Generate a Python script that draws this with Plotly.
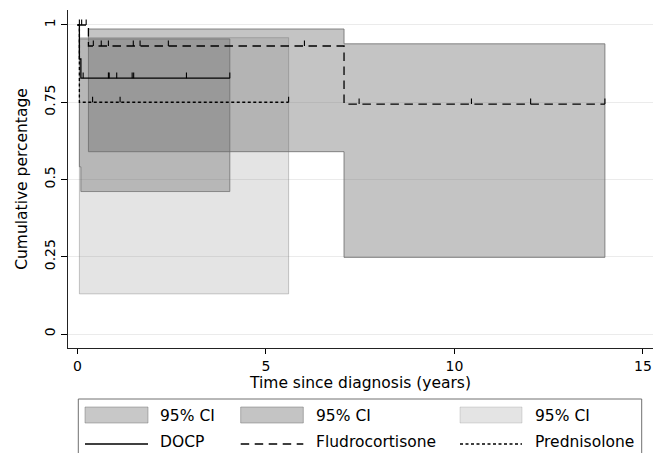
import plotly.graph_objects as go

# ---------------- data ----------------
# DOCP
docp_t = [0, 0.05, 0.09, 4.04]
docp_s = [1, 0.89, 0.828, 0.828]
docp_cens_t = [0.15, 0.82, 0.84, 1.04, 1.45, 1.49, 2.89, 4.04]
docp_ci_t = [0.05, 0.09, 4.04]
docp_ci_lo = [0.541, 0.461, 0.461]
docp_ci_hi = [0.955, 0.955, 0.955]

# Fludrocortisone
fludro_t = [0, 0.29, 7.07, 13.99]
fludro_s = [1, 0.932, 0.744, 0.744]
fludro_cens_t = [0.05, 0.11, 0.23, 0.42, 0.63, 0.82, 1.48, 1.66, 2.41, 6.02,
                 7.47, 10.45, 12.02, 13.99]
fludro_ci_t = [0.29, 7.07, 13.99]
fludro_ci_lo = [0.590, 0.248, 0.248]
fludro_ci_hi = [0.987, 0.939, 0.939]

# Prednisolone
pred_t = [0, 0.05, 5.60]
pred_s = [1, 0.750, 0.750]
pred_cens_t = [0.40, 1.13, 5.60]
pred_ci_t = [0.05, 5.60]
pred_ci_lo = [0.130, 0.130]
pred_ci_hi = [0.959, 0.959]

x_ticks = [0, 5, 10, 15]
y_ticks = [0, 0.25, 0.5, 0.75, 1]
y_ticklabels = ["0", "0.25", "0.5", "0.75", "1"]

legend_ci_labels = ["95% CI", "95% CI", "95% CI"]
legend_line_labels = ["DOCP", "Fludrocortisone", "Prednisolone"]

# ---------------- styles ----------------
FONT = "DejaVu Sans"
W, H = 653, 453
ML, MR, MT, MB = 68, 0, 10, 105
TICK_H = 0.018
BASE = "110,110,110"
alphas = [0.379, 0.407, 0.186]
dashes = ["solid", "8.5px,5.5px", "3px,2.5px"]


def step_poly(t, lo, hi):
    xs, ys = [], []
    n = len(t) - 1
    for i in range(n):
        xs += [t[i], t[i + 1]]
        ys += [hi[i], hi[i]]
    for i in reversed(range(n)):
        xs += [t[i + 1], t[i]]
        ys += [lo[i], lo[i]]
    xs.append(xs[0])
    ys.append(ys[0])
    return xs, ys


def surv_at(t, s, tc):
    v = s[0]
    for ti, si in zip(t, s):
        if ti <= tc:
            v = si
    return v


def cens_segments(t, s, ct):
    xs, ys = [], []
    for c in ct:
        v = surv_at(t, s, c)
        xs += [c, c, None]
        ys += [v, v + TICK_H, None]
    return xs, ys


fig = go.Figure()

cis = [(docp_ci_t, docp_ci_lo, docp_ci_hi),
       (fludro_ci_t, fludro_ci_lo, fludro_ci_hi),
       (pred_ci_t, pred_ci_lo, pred_ci_hi)]
for (t, lo, hi), a in zip(cis, alphas):
    xs, ys = step_poly(t, lo, hi)
    fig.add_trace(go.Scatter(
        x=xs, y=ys, mode="lines", fill="toself",
        fillcolor=f"rgba({BASE},{a})",
        line=dict(color=f"rgba({BASE},{min(0.85, 2 * a)})", width=1),
        showlegend=False, hoverinfo="skip"))

curves = [(docp_t, docp_s, docp_cens_t),
          (fludro_t, fludro_s, fludro_cens_t),
          (pred_t, pred_s, pred_cens_t)]
for (t, s, ct), d, name in zip(curves, dashes, legend_line_labels):
    fig.add_trace(go.Scatter(
        x=t, y=s, mode="lines", line=dict(color="black", width=1.3, dash=d, shape="hv"),
        name=name, showlegend=False))
    cx, cy = cens_segments(t, s, ct)
    fig.add_trace(go.Scatter(
        x=cx, y=cy, mode="lines", line=dict(color="black", width=1.1),
        showlegend=False, hoverinfo="skip"))

# ---------------- manual Stata-like legend ----------------
PW = W - ML - MR
PH = H - MT - MB


def px(xpix):
    return (xpix - ML) / PW


def py(ypix):
    return (H - MB - ypix) / PH


shapes = []
annotations = []
shapes.append(dict(type="rect", xref="paper", yref="paper",
                   x0=px(78.3), x1=px(641.7), y0=py(462), y1=py(399),
                   line=dict(color="#707070", width=1), fillcolor="white", layer="below"))
col_sw = [(85, 148), (240.7, 303.3), (460, 522)]
col_tx = [157.7, 313.5, 533]
for i in range(3):
    x0, x1 = col_sw[i]
    a = alphas[i]
    shapes.append(dict(type="rect", xref="paper", yref="paper",
                       x0=px(x0), x1=px(x1), y0=py(423), y1=py(407),
                       fillcolor=f"rgba({BASE},{a})",
                       line=dict(color=f"rgba({BASE},{min(0.85, 2 * a) * 0.6})", width=1)))
    shapes.append(dict(type="line", xref="paper", yref="paper",
                       x0=px(x0), x1=px(x1), y0=py(444), y1=py(444),
                       line=dict(color="black", width=1.3, dash=dashes[i])))
    annotations.append(dict(xref="paper", yref="paper", x=px(col_tx[i]), y=py(415.5),
                            text=legend_ci_labels[i], showarrow=False,
                            xanchor="left", yanchor="middle",
                            font=dict(family=FONT, size=15.5, color="black")))
    annotations.append(dict(xref="paper", yref="paper", x=px(col_tx[i]), y=py(441.5),
                            text=legend_line_labels[i], showarrow=False,
                            xanchor="left", yanchor="middle",
                            font=dict(family=FONT, size=15.5, color="black")))

fig.update_layout(
    width=W, height=H,
    margin=dict(l=ML, r=MR, t=MT, b=MB),
    paper_bgcolor="white", plot_bgcolor="white",
    font=dict(family=FONT, size=14, color="black"),
    shapes=shapes, annotations=annotations,
    xaxis=dict(range=[-0.252, 15.266], tickvals=x_ticks, ticks="outside", ticklen=5,
               tickcolor="black", showline=True, linecolor="#222", linewidth=1,
               showgrid=False, zeroline=False, tickfont=dict(size=14),
               title=dict(text="Time since diagnosis (years)", font=dict(size=15.5), standoff=4)),
    yaxis=dict(range=[-0.0453, 1.0485], tickvals=y_ticks, ticktext=y_ticklabels,
               tickangle=-90, ticks="outside", ticklen=6, tickcolor="black",
               showline=True, linecolor="#222", linewidth=1,
               showgrid=True, gridcolor="#ebebeb", gridwidth=1, zeroline=False,
               tickfont=dict(size=14),
               title=dict(text="Cumulative percentage", font=dict(size=15.5), standoff=10)),
)

fig.write_html("out.html", config={"displayModeBar": False},
               post_script="document.body.style.margin='0';document.body.style.padding='0';")
